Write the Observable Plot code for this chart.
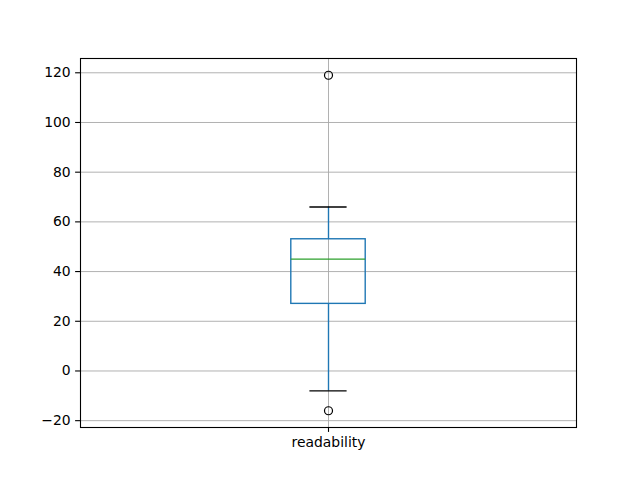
<!DOCTYPE html>
<html>
<head>
<meta charset="utf-8">
<script src="https://cdn.jsdelivr.net/npm/d3@7"></script>
<script src="https://cdn.jsdelivr.net/npm/@observablehq/plot@0.6"></script>
<style>
  html, body { margin: 0; padding: 0; background: #fff; }
  svg { display: block; }
</style>
</head>
<body>
<div id="chart"></div>
<script>
// Data
const categories = ["readability"];
const q1 = [27];
const median = [45];
const q3 = [53];
const whiskerLow = [-8];
const whiskerHigh = [66];
const outliers = [-16, 119];
const yTicks = [-20, 0, 20, 40, 60, 80, 100, 120];

// Build table
const pos = categories.map((c, i) => i + 1);
const boxes = categories.map((c, i) => ({
  name: c, pos: pos[i], q1: q1[i], median: median[i], q3: q3[i],
  lo: whiskerLow[i], hi: whiskerHigh[i]
}));
const fliers = outliers.map(v => ({pos: 1, value: v}));

const halfBox = 0.075;   // box half width in x units
const halfCap = 0.0375;  // cap half width

const allVals = [...outliers, ...whiskerLow, ...whiskerHigh];
const ymin = d3.min(allVals), ymax = d3.max(allVals);
const pad = (ymax - ymin) * 0.05;

const lw = 1.39;
const chart = Plot.plot({
  width: 640,
  height: 480,
  marginLeft: 80,
  marginRight: 64,
  marginTop: 58,
  marginBottom: 53,
  style: {fontFamily: "DejaVu Sans", fontSize: "13.9px", color: "black", background: "white"},
  x: {type: "linear", domain: [0.5, categories.length + 0.5], axis: null},
  y: {domain: [ymin - pad, ymax + pad], axis: null},
  marks: [
    Plot.gridY(yTicks, {stroke: "#a8a8a8", strokeOpacity: 1, strokeWidth: 0.9}),
    Plot.gridX(pos, {stroke: "#a8a8a8", strokeOpacity: 1, strokeWidth: 0.9}),
    // whiskers
    Plot.ruleX(boxes, {x: "pos", y1: "lo", y2: "q1", stroke: "#1f77b4", strokeWidth: lw}),
    Plot.ruleX(boxes, {x: "pos", y1: "q3", y2: "hi", stroke: "#1f77b4", strokeWidth: lw}),
    // box
    Plot.rect(boxes, {x1: d => d.pos - halfBox, x2: d => d.pos + halfBox, y1: "q1", y2: "q3",
      fill: "none", stroke: "#1f77b4", strokeWidth: lw}),
    // median
    Plot.ruleY(boxes, {y: "median", x1: d => d.pos - halfBox, x2: d => d.pos + halfBox,
      stroke: "#2ca02c", strokeWidth: lw}),
    // caps
    Plot.ruleY(boxes, {y: "lo", x1: d => d.pos - halfCap, x2: d => d.pos + halfCap, stroke: "black", strokeWidth: lw}),
    Plot.ruleY(boxes, {y: "hi", x1: d => d.pos - halfCap, x2: d => d.pos + halfCap, stroke: "black", strokeWidth: lw}),
    // fliers
    Plot.dot(fliers, {x: "pos", y: "value", r: 4, stroke: "black", strokeWidth: 1.2, fill: "none"}),
    Plot.frame({stroke: "black", strokeWidth: 1.1}),
    Plot.axisY(yTicks, {
      tickSize: 4.9, tickPadding: 4.9, stroke: "black", strokeWidth: 1.1,
      tickFormat: d => (d < 0 ? "\u2212" : "") + Math.abs(d),
      fill: "black", fontSize: 13.9, label: null
    }),
    Plot.axisX(pos, {
      tickSize: 4.9, tickPadding: 4.9, stroke: "black", strokeWidth: 1.1,
      tickFormat: d => categories[d - 1],
      fill: "black", fontSize: 13.9, label: null
    })
  ]
});
document.getElementById("chart").appendChild(chart);
</script>
</body>
</html>
